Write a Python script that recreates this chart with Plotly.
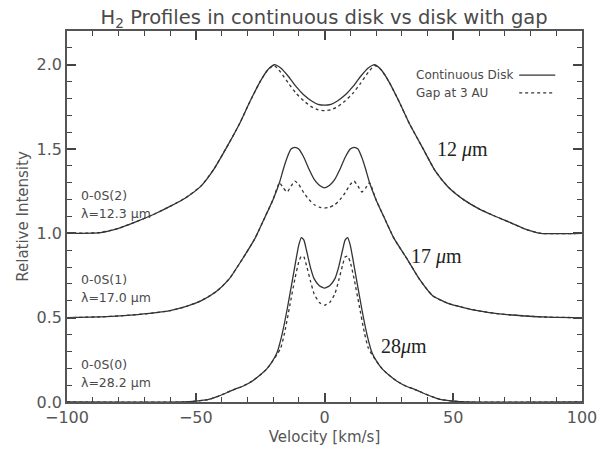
import plotly.graph_objects as go

# ---------------- data ----------------
v12 = [-100, -87, -80, -73, -66, -60, -54, -48, -43, -38, -33, -29, -25, -22, -19.5, -17, -14, -11, -8, -5, -2.5, 0,
       2.5, 5, 8, 11, 14, 17, 19.5, 22, 25, 29, 33, 38, 43, 48, 54, 60, 66, 72, 78, 84, 100]
i12_cont = [1.0, 1.005, 1.03, 1.07, 1.115, 1.16, 1.21, 1.28, 1.38, 1.51, 1.65, 1.78, 1.90, 1.97, 2.0, 1.98, 1.93, 1.87, 1.82, 1.785, 1.765, 1.76,
            1.765, 1.785, 1.82, 1.87, 1.93, 1.98, 2.0, 1.97, 1.90, 1.78, 1.65, 1.51, 1.37, 1.275, 1.20, 1.145, 1.103, 1.065, 1.025, 1.0, 1.0]
i12_gap = [1.0, 1.005, 1.03, 1.07, 1.115, 1.16, 1.21, 1.28, 1.38, 1.51, 1.65, 1.78, 1.90, 1.97, 1.995, 1.955, 1.89, 1.83, 1.785, 1.75, 1.733, 1.728,
           1.733, 1.75, 1.785, 1.83, 1.89, 1.955, 1.995, 1.97, 1.90, 1.78, 1.65, 1.51, 1.37, 1.275, 1.20, 1.145, 1.103, 1.065, 1.025, 1.0, 1.0]

v17 = [-100, -87, -78, -68, -60, -54, -48, -42, -37, -32, -27, -23, -20, -17.5, -16, -14.5, -13, -11.5, -10, -8, -6, -4, -2, 0,
       2, 4, 6, 8, 10, 11.5, 13, 14.5, 16, 17.5, 20, 23, 27, 32, 37, 42, 48, 54, 60, 68, 78, 87, 100]
i17_cont = [0.5, 0.505, 0.512, 0.525, 0.542, 0.565, 0.60, 0.655, 0.73, 0.845, 0.97, 1.10, 1.20, 1.30, 1.38, 1.45, 1.50, 1.51, 1.50, 1.45, 1.38, 1.32, 1.285, 1.27,
            1.285, 1.32, 1.38, 1.45, 1.50, 1.51, 1.50, 1.45, 1.38, 1.30, 1.20, 1.10, 0.97, 0.85, 0.725, 0.63, 0.585, 0.56, 0.54, 0.522, 0.51, 0.503, 0.5]
i17_gap = [0.5, 0.505, 0.512, 0.525, 0.542, 0.565, 0.60, 0.655, 0.73, 0.845, 0.97, 1.10, 1.20, 1.30, 1.27, 1.245, 1.28, 1.31, 1.29, 1.24, 1.20, 1.17, 1.155, 1.15,
           1.155, 1.17, 1.20, 1.24, 1.29, 1.31, 1.28, 1.245, 1.27, 1.30, 1.20, 1.10, 0.97, 0.85, 0.725, 0.63, 0.585, 0.56, 0.54, 0.522, 0.51, 0.503, 0.5]

v28 = [-100, -55, -50, -45, -42, -38, -35, -31.5, -28, -25, -22.5, -20.5, -18.5, -16.5, -14.5, -12.5, -11, -10, -9, -8, -7, -5.5, -4, -2, 0,
       2, 4, 5.5, 7, 8, 9, 10, 11, 12.5, 14.5, 16.5, 18.5, 20.5, 22.5, 25, 28, 31.5, 35, 38, 42, 45, 50, 55, 100]
i28_cont = [0.0, 0.0, 0.005, 0.015, 0.03, 0.055, 0.075, 0.095, 0.125, 0.16, 0.195, 0.235, 0.29, 0.40, 0.55, 0.72, 0.85, 0.93, 0.975, 0.96, 0.90, 0.80, 0.73, 0.69, 0.675,
            0.69, 0.73, 0.80, 0.90, 0.96, 0.975, 0.93, 0.85, 0.72, 0.55, 0.40, 0.29, 0.235, 0.195, 0.16, 0.125, 0.095, 0.075, 0.055, 0.03, 0.015, 0.005, 0.0, 0.0]
v28_gap = [-100, -55, -50, -45, -42, -38, -35, -31.5, -28, -25, -22.5, -20.5, -18.5, -17, -15.5, -13.5, -11.5, -10, -9, -8, -7, -5.5, -4, -2, 0,
           2, 4, 5.5, 7, 8, 9, 10, 11.5, 13.5, 15.5, 17, 18.5, 20.5, 22.5, 25, 28, 31.5, 35, 38, 42, 45, 50, 55, 100]
i28_gap = [0.0, 0.0, 0.005, 0.015, 0.03, 0.055, 0.075, 0.095, 0.125, 0.16, 0.195, 0.235, 0.28, 0.32, 0.41, 0.57, 0.73, 0.83, 0.865, 0.86, 0.81, 0.72, 0.64, 0.59, 0.574,
           0.59, 0.64, 0.72, 0.81, 0.86, 0.865, 0.83, 0.73, 0.57, 0.41, 0.32, 0.28, 0.235, 0.195, 0.16, 0.125, 0.095, 0.075, 0.055, 0.03, 0.015, 0.005, 0.0, 0.0]

x_range = [-100, 100]
y_range = [0, 2.2]
x_major, x_minor = 50, 10
y_major, y_minor = 0.5, 0.1

line_labels = [("0-0S(2)", "λ=12.3 μm", 1.0), ("0-0S(1)", "λ=17.0 μm", 0.5), ("0-0S(0)", "λ=28.2 μm", 0.0)]
wave_labels = [("12 <i>μ</i>m", 43, 1.5), ("17 <i>μ</i>m", 33, 0.86), ("28<i>μ</i>m", 21, 0.33)]

# ---------------- figure ----------------
INK = "#333333"
AX = "#555555"
TICK = "#444444"
TXT = "#4a4a4a"
SANS = "DejaVu Sans"

fig = go.Figure()
series = [(v12, i12_cont, v12, i12_gap), (v17, i17_cont, v17, i17_gap), (v28, i28_cont, v28_gap, i28_gap)]
for vc, cont, vg, gap in series:
    fig.add_trace(go.Scatter(x=vc, y=cont, mode="lines", line=dict(color=INK, width=1.3, shape="spline", smoothing=0.5),
                             showlegend=False, hoverinfo="skip"))
    fig.add_trace(go.Scatter(x=vg, y=gap, mode="lines", line=dict(color=INK, width=1.3, dash="dot", shape="spline", smoothing=0.5),
                             showlegend=False, hoverinfo="skip"))
# invisible carrier so the overlaid minor-tick axes are drawn
fig.add_trace(go.Scatter(x=x_range, y=y_range, xaxis="x2", yaxis="y2", mode="markers",
                         marker=dict(size=1, opacity=0), showlegend=False, hoverinfo="skip"))

annotations = []
for top, bottom, base in line_labels:
    annotations.append(dict(x=0.024, xref="paper", y=base + 0.225, yref="y", text=top, showarrow=False,
                            xanchor="left", yanchor="middle", font=dict(family=SANS, size=12.5, color=TXT)))
    annotations.append(dict(x=0.024, xref="paper", y=base + 0.117, yref="y", text=bottom, showarrow=False,
                            xanchor="left", yanchor="middle", font=dict(family=SANS, size=12.5, color=TXT)))
for txt, xv, yv in wave_labels:
    annotations.append(dict(x=xv, y=yv, text=txt, showarrow=False, xanchor="left", yanchor="middle",
                            font=dict(family="Liberation Serif", size=20, color="#222")))

# legend (text on the left, line sample on the right)
annotations.append(dict(x=0.674, xref="paper", y=0.881, yref="paper", text="Continuous Disk", showarrow=False,
                        xanchor="left", yanchor="middle", font=dict(family=SANS, size=12, color=TXT)))
annotations.append(dict(x=0.674, xref="paper", y=0.833, yref="paper", text="Gap at 3 AU", showarrow=False,
                        xanchor="left", yanchor="middle", font=dict(family=SANS, size=12, color=TXT)))
shapes = [
    dict(type="line", xref="paper", yref="paper", x0=0.878, x1=0.948, y0=0.881, y1=0.881, line=dict(color=INK, width=1.3)),
    dict(type="line", xref="paper", yref="paper", x0=0.878, x1=0.948, y0=0.833, y1=0.833, line=dict(color=INK, width=1.3, dash="dot")),
]

fig.update_layout(
    width=603, height=449,
    margin=dict(l=67, r=21, t=31, b=47),
    paper_bgcolor="white", plot_bgcolor="white",
    title=dict(text="H<sub>2</sub> Profiles in continuous disk vs disk with gap", x=0.5375, xanchor="center",
               y=0.962, yanchor="middle", font=dict(family=SANS, size=19.5, color=TXT)),
    annotations=annotations, shapes=shapes,
    showlegend=False,
    # major axes (with labels)
    xaxis=dict(range=x_range, tickmode="linear", tick0=x_range[0], dtick=x_major,
               showgrid=False, zeroline=False, showline=True, linecolor=AX, linewidth=1.5, automargin=False,
               mirror="ticks", ticks="inside", tickcolor=TICK, tickwidth=1.5, ticklen=9,
               tickfont=dict(family=SANS, size=16, color="#555"),
               title=dict(text="Velocity [km/s]", font=dict(family=SANS, size=15, color="#555"), standoff=6)),
    yaxis=dict(range=y_range, tickmode="linear", tick0=y_range[0], dtick=y_major, tickformat=".1f",
               showgrid=False, zeroline=False, showline=True, linecolor=AX, linewidth=1.5, automargin=False,
               mirror="ticks", ticks="inside", tickcolor=TICK, tickwidth=1.5, ticklen=9,
               tickfont=dict(family=SANS, size=16, color="#555"),
               title=dict(text="Relative Intensity", font=dict(family=SANS, size=15, color="#555"), standoff=4)),
    # minor-tick axes overlaid on the same ranges
    xaxis2=dict(range=x_range, overlaying="x", anchor="y2", side="bottom", tickmode="linear", tick0=x_range[0], dtick=x_minor,
                showgrid=False, zeroline=False, showline=True, linecolor=AX, linewidth=1.5, automargin=False,
                mirror="ticks", ticks="inside", tickcolor=TICK, tickwidth=1.3, ticklen=5, showticklabels=False),
    yaxis2=dict(range=y_range, overlaying="y", anchor="x2", side="left", tickmode="linear", tick0=y_range[0], dtick=y_minor,
                showgrid=False, zeroline=False, showline=True, linecolor=AX, linewidth=1.5, automargin=False,
                mirror="ticks", ticks="inside", tickcolor=TICK, tickwidth=1.3, ticklen=5, showticklabels=False),
)

fig.write_html("out.html")
